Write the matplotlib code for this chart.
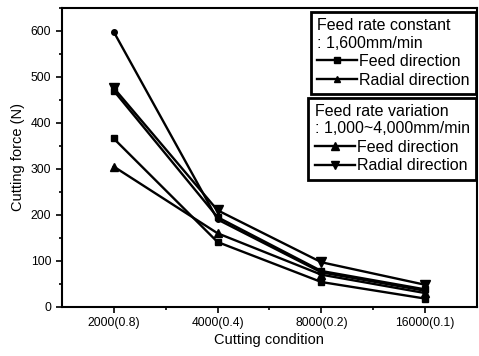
import matplotlib
matplotlib.use("Agg")
import matplotlib.pyplot as plt
from matplotlib.lines import Line2D

plt.rcParams['font.family'] = ['Liberation Sans', 'DejaVu Sans']

categories = ["2000(0.8)", "4000(0.4)", "8000(0.2)", "16000(0.1)"]
const_feed = [366, 141, 54, 18]
const_radial = [598, 190, 75, 35]
var_feed = [305, 160, 70, 30]
var_radial = [476, 210, 97, 48]
extra_series = [470, 195, 78, 38]

fig = plt.figure(figsize=(4.79, 3.56), dpi=100)
ax = fig.add_axes([0.129, 0.138, 0.867, 0.840])
x = list(range(len(categories)))

ax.plot(x, const_feed, color='black', lw=1.7, marker='s', ms=5)
ax.plot(x, const_radial, color='black', lw=1.7, marker='o', ms=4)
ax.plot(x, extra_series, color='black', lw=1.7, marker='s', ms=5)
ax.plot(x, var_feed, color='black', lw=1.7, marker='^', ms=6)
ax.plot(x, var_radial, color='black', lw=1.7, marker='v', ms=7)

ax.set_xlim(-0.5, 3.5)
ax.set_ylim(0, 648)
ax.set_xticks(x)
ax.set_xticklabels(categories)
ax.set_xticks([0.5, 1.5, 2.5], minor=True)
ax.set_yticks(range(0, 601, 100))
ax.set_yticks(range(50, 651, 100), minor=True)
ax.tick_params(axis='both', which='major', direction='out', length=4, width=1.2, labelsize=8.7)
ax.tick_params(axis='both', which='minor', direction='out', length=2.5, width=1.2)
for s in ax.spines.values():
    s.set_linewidth(1.5)
ax.set_xlabel("Cutting condition", fontsize=10.5, labelpad=3)
ax.set_ylabel("Cutting force (N)", fontsize=10.5, labelpad=4)

common = dict(alignment='left', loc='upper right', fontsize=11.5, title_fontsize=11.5,
              fancybox=False, edgecolor='black', handlelength=2.5,
              handletextpad=0.15, borderpad=0.4, labelspacing=0.22,
              borderaxespad=0, framealpha=1)

h1 = [Line2D([], [], color='black', lw=1.7, marker='s', ms=4),
      Line2D([], [], color='black', lw=1.7, marker='^', ms=4)]
leg1 = ax.legend(h1, ["Feed direction", "Radial direction"],
                 title="Feed rate constant\n: 1,600mm/min",
                 bbox_to_anchor=(0.998, 0.987), **common)
leg1.get_frame().set_linewidth(2)
ax.add_artist(leg1)

h2 = [Line2D([], [], color='black', lw=1.7, marker='^', ms=6),
      Line2D([], [], color='black', lw=1.7, marker='v', ms=6)]
leg2 = ax.legend(h2, ["Feed direction", "Radial direction"],
                 title="Feed rate variation\n: 1,000~4,000mm/min",
                 bbox_to_anchor=(0.998, 0.70), **common)
leg2.get_frame().set_linewidth(2)

fig.savefig("out.png", dpi=100)
